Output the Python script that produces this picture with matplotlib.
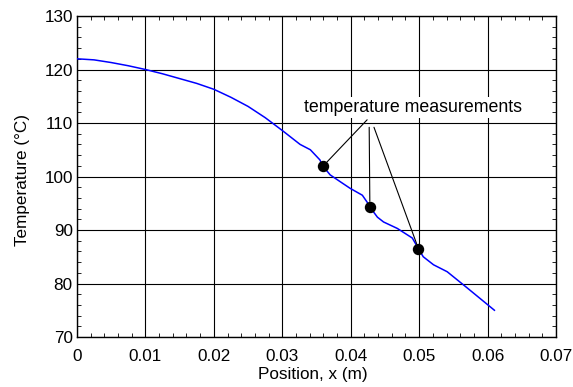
import matplotlib
matplotlib.use('Agg')
import matplotlib.pyplot as plt
from matplotlib.ticker import MultipleLocator, FuncFormatter

plt.rcParams['font.family'] = ['Liberation Sans', 'DejaVu Sans']

# Temperature profile along the position
position = [0, 0.0025, 0.005, 0.0075, 0.01, 0.0125, 0.015, 0.0175, 0.02,
            0.0225, 0.025, 0.0275, 0.030, 0.0326, 0.0341,
            0.0355, 0.0359, 0.037, 0.0385, 0.0399, 0.0417, 0.0424, 0.0428,
            0.0439, 0.0448, 0.0468, 0.049, 0.0499, 0.0506, 0.0521, 0.0541,
            0.057, 0.061]
temperature = [122, 121.8, 121.3, 120.7, 120, 119.2, 118.3, 117.4, 116.3,
               114.8, 113.1, 111.0, 108.6, 106, 105,
               103.1, 102, 100.3, 99, 97.8, 96.5, 95.2, 94.3,
               92.4, 91.5, 90.3, 88.5, 86.5, 85, 83.5, 82.2,
               79.2, 75]

# Measurement points
meas_x = [0.036, 0.0428, 0.0499]
meas_y = [102, 94.3, 86.5]
label_text = 'temperature measurements'

fs = 12.3

fig = plt.figure(figsize=(5.73, 3.87), dpi=100)
ax = fig.add_axes([77 / 573, 1 - 337 / 387, (556 - 77) / 573, (337 - 16) / 387])

ax.plot(position, temperature, color='#0000ff', lw=1.1, zorder=3)
ax.plot(meas_x, meas_y, 'o', color='black', ms=7.2, zorder=4)

# annotation lines from the label to each point
starts = [(0.0424, 110.6), (0.0427, 109.2), (0.0434, 109.2)]
for (sx, sy), mx, my in zip(starts, meas_x, meas_y):
    ax.annotate('', xy=(mx, my), xytext=(sx, sy),
                arrowprops=dict(arrowstyle='-', color='black', lw=0.8,
                                shrinkA=0, shrinkB=4), zorder=3)

ax.text(0.0491, 112.9, label_text, ha='center', va='center', fontsize=12.8,
        bbox=dict(facecolor='white', edgecolor='none', pad=1.5), zorder=3)

ax.set_xlim(0, 0.07)
ax.set_ylim(70, 130)
ax.xaxis.set_major_locator(MultipleLocator(0.01))
ax.xaxis.set_minor_locator(MultipleLocator(0.002))
ax.yaxis.set_major_locator(MultipleLocator(10))
ax.yaxis.set_minor_locator(MultipleLocator(2))
ax.xaxis.set_major_formatter(FuncFormatter(lambda v, p: '0' if abs(v) < 1e-9 else f'{v:.2f}'))

ax.grid(True, which='major', color='black', lw=0.8)
ax.tick_params(which='both', direction='in', top=True, right=True, labelsize=fs)
ax.tick_params(which='major', length=0)
ax.tick_params(axis='x', which='major', pad=8.5)
ax.tick_params(axis='y', which='major', pad=3)
ax.tick_params(which='minor', length=3)
for s in ax.spines.values():
    s.set_linewidth(1)

ax.set_xlabel('Position, x (m)', fontsize=fs)
ax.set_ylabel('Temperature (°C)', fontsize=fs)
ax.xaxis.set_label_coords(0.493, -0.093)
ax.yaxis.set_label_coords(-0.098, 0.489)

fig.savefig('out.png', dpi=100)
